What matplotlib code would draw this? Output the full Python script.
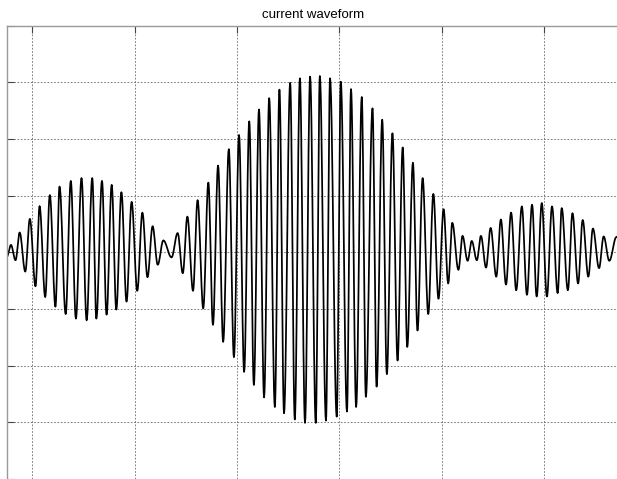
import numpy as np
import matplotlib
matplotlib.use('Agg')
import matplotlib.pyplot as plt

# Extrema of the current waveform (time in s, current in grid units)
ext_t = [-0.050, -0.042, -0.033, -0.025, -0.014, -0.005, 0.006, 0.014, 0.025, 0.034,
         0.045, 0.053, 0.065, 0.075, 0.085, 0.096, 0.106, 0.117, 0.125, 0.136,
         0.145, 0.155, 0.164, 0.174, 0.184, 0.194, 0.205, 0.215, 0.225, 0.235,
         0.245, 0.256, 0.272, 0.284, 0.294, 0.303, 0.314, 0.323, 0.334, 0.344,
         0.353, 0.363, 0.373, 0.384, 0.394, 0.404, 0.414, 0.424, 0.433, 0.443,
         0.453, 0.463, 0.474, 0.483, 0.492, 0.504, 0.513, 0.523, 0.533, 0.543,
         0.554, 0.562, 0.574, 0.582, 0.595, 0.603, 0.615, 0.623, 0.633, 0.644,
         0.652, 0.665, 0.673, 0.684, 0.693, 0.704, 0.714, 0.724, 0.733, 0.744,
         0.753, 0.763, 0.774, 0.784, 0.794, 0.804, 0.813, 0.821, 0.833, 0.841,
         0.851, 0.859, 0.869, 0.877, 0.887, 0.896, 0.907, 0.916, 0.926, 0.936,
         0.946, 0.957, 0.967, 0.977, 0.986, 0.996, 1.006, 1.016, 1.027, 1.035,
         1.047, 1.056, 1.067, 1.076, 1.087, 1.096, 1.108, 1.117, 1.128, 1.142]
ext_v = [-0.08, 0.13, -0.14, 0.35, -0.34, 0.59, -0.60, 0.81, -0.79, 1.01,
         -0.96, 1.16, -1.09, 1.26, -1.17, 1.31, -1.20, 1.31, -1.17, 1.26,
         -1.10, 1.19, -1.01, 1.06, -0.87, 0.89, -0.68, 0.70, -0.44, 0.46,
         -0.22, 0.21, -0.09, 0.34, -0.37, 0.63, -0.68, 0.92, -0.99, 1.23,
         -1.28, 1.53, -1.58, 1.82, -1.85, 2.07, -2.11, 2.31, -2.34, 2.52,
         -2.56, 2.72, -2.73, 2.87, -2.84, 2.99, -2.95, 3.07, -3.01, 3.10,
         -3.01, 3.11, -2.97, 3.07, -2.90, 3.01, -2.81, 2.88, -2.73, 2.74,
         -2.55, 2.54, -2.37, 2.34, -2.15, 2.10, -1.91, 1.85, -1.67, 1.58,
         -1.38, 1.31, -1.09, 1.03, -0.82, 0.76, -0.55, 0.52, -0.31, 0.29,
         -0.15, 0.20, -0.14, 0.29, -0.27, 0.43, -0.43, 0.58, -0.57, 0.70,
         -0.67, 0.81, -0.75, 0.84, -0.78, 0.87, -0.78, 0.81, -0.72, 0.78,
         -0.67, 0.69, -0.55, 0.57, -0.43, 0.42, -0.28, 0.28, -0.15, 0.27]

title = 'current waveform'

# Smooth half-cosine swing between neighbouring extrema
t_line, v_line = [], []
s = np.linspace(0, 1, 14)
for k in range(len(ext_t) - 1):
    t0, t1 = ext_t[k], ext_t[k + 1]
    v0, v1 = ext_v[k], ext_v[k + 1]
    t_line.extend(t0 + (t1 - t0) * s)
    v_line.extend(v0 + (v1 - v0) * (1 - np.cos(np.pi * s)) / 2)

fig = plt.figure(figsize=(6.17, 4.79), dpi=100)
# the picture is a crop: right and bottom edges of the axes sit just outside it
ax = fig.add_axes([6.7 / 617, 0.0, (619 - 6.7) / 617, (479 - 25.6) / 479])

ax.plot(t_line, v_line, color='black', linewidth=1.25)

ax.set_xlim(-0.0503, 1.147)
ax.set_ylim(-4, 4)
ax.set_xticks(np.arange(0, 1.2, 0.2))
ax.set_yticks(np.arange(-4, 5, 1))

# MATLAB-like look
ax.grid(True, linestyle=(0, (2, 2)), color='#666666', linewidth=0.6)
ax.tick_params(direction='in', length=5, color='#444444',
               left=True, top=True, right=False, bottom=False,
               labelleft=False, labelbottom=False)
for side in ['left', 'top']:
    ax.spines[side].set_color('#999999')
    ax.spines[side].set_linewidth(1.0)
ax.spines['right'].set_visible(False)
ax.spines['bottom'].set_visible(False)

ax.set_title(title, fontsize=9.5, family=['Liberation Sans', 'DejaVu Sans'], pad=5.5)

fig.patch.set_facecolor('white')
plt.savefig('out.png', dpi=100, facecolor='white')
